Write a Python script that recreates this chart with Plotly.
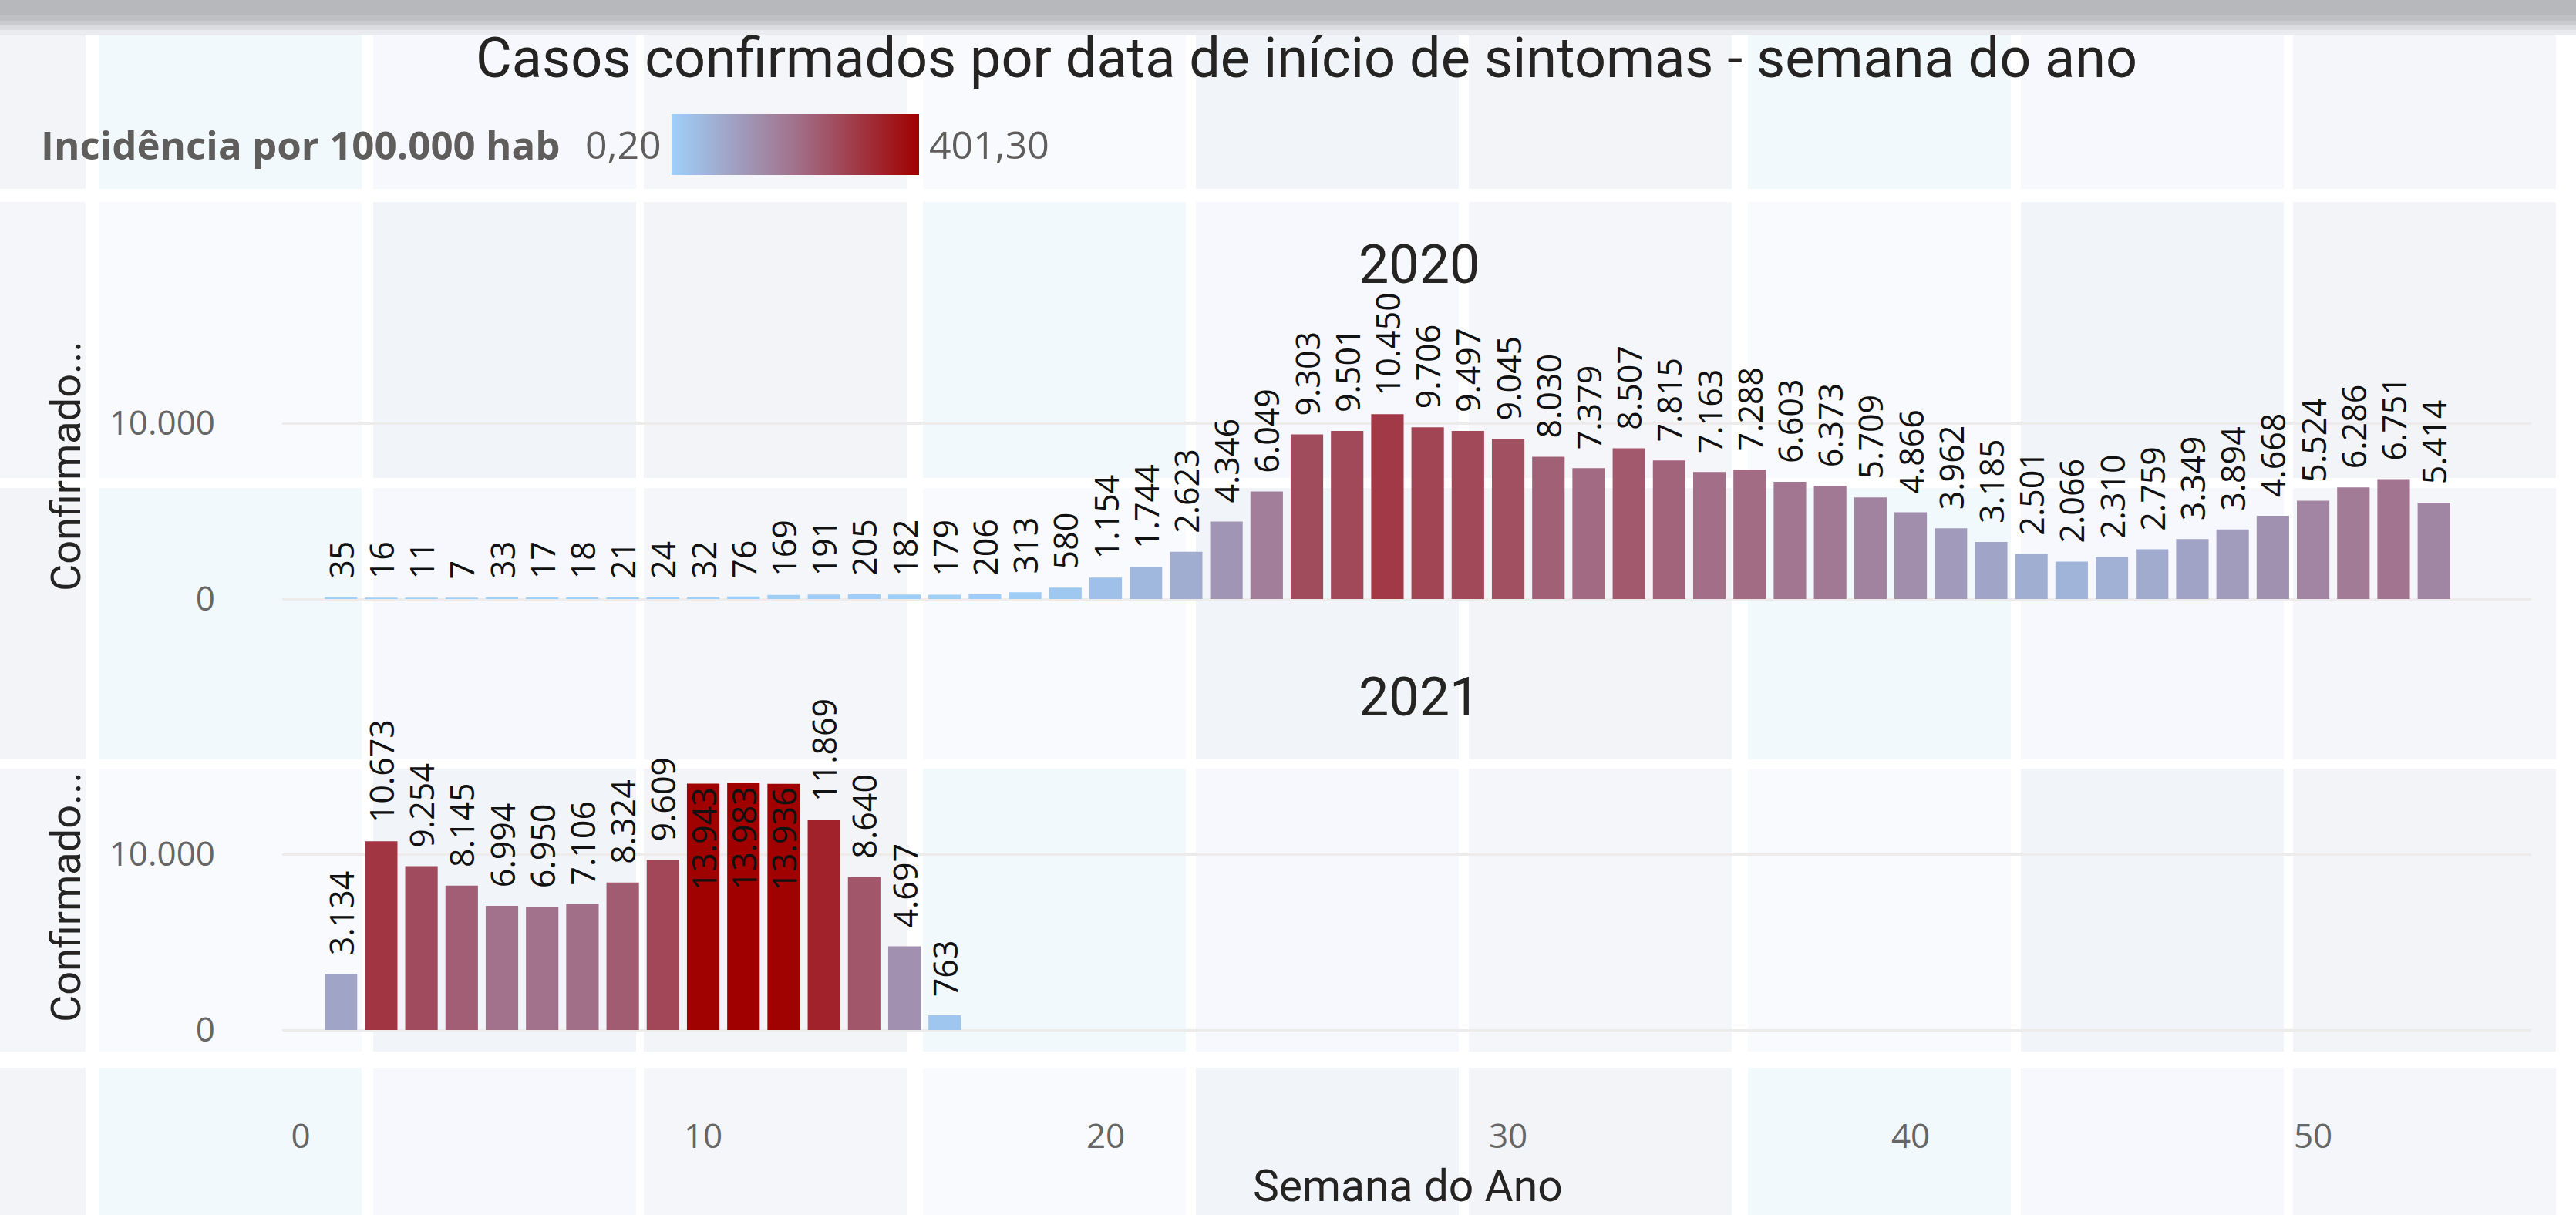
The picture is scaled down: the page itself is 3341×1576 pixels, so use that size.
import plotly.graph_objects as go

# ---------------- data ----------------
weeks_2020 = list(range(1, 54))
cases_2020 = [35, 16, 11, 7, 33, 17, 18, 21, 24, 32, 76, 169, 191, 205, 182, 179, 206,
              313, 580, 1154, 1744, 2623, 4346, 6049, 9303, 9501, 10450, 9706, 9497,
              9045, 8030, 7379, 8507, 7815, 7163, 7288, 6603, 6373, 5709, 4866, 3962,
              3185, 2501, 2066, 2310, 2759, 3349, 3894, 4668, 5524, 6286, 6751, 5414]
weeks_2021 = list(range(1, 17))
cases_2021 = [3134, 10673, 9254, 8145, 6994, 6950, 7106, 8324, 9609, 13943, 13983,
              13936, 11869, 8640, 4697, 763]
years = ["2020", "2021"]
x_ticks = [0, 10, 20, 30, 40, 50]
y_ticks = [0, 10000]
inc_min, inc_max = 0.20, 401.30
population = 3484426  # implied by the legend maximum (401,30 per 100.000 hab)

title_text = "Casos confirmados por data de início de sintomas - semana do ano"
legend_title = "Incidência por 100.000 hab"
x_title = "Semana do Ano"
y_title = "Confirmado..."

inc_2020 = [c * 1e5 / population for c in cases_2020]
inc_2021 = [c * 1e5 / population for c in cases_2021]

# ---------------- layout geometry (pixels) ----------------
W, H = 3341, 1576
x_left_px, x_right_px = 366, 3283
x_range = [-0.46, 55.42]
px_per_unit = 0.0228
y_max = 15200
zero_px = {"2020": 777, "2021": 1336}


def ydom(z):
    return [1 - z / H, 1 - (z - y_max * px_per_unit) / H]


def px_x(p):
    return p / W


def px_y(p):
    return 1 - p / H


colorscale = [[0.0, "#9FD0FA"], [0.5, "#A2718B"], [1.0, "#A00000"]]
label_font = dict(family="Open Sans", size=43, color="#111111")
grey = "#605E5C"
dark = "#252423"
label_tpl = "\u00a0\u00a0%{y:,d}"

fig = go.Figure()

# 2020
fig.add_trace(go.Bar(
    x=weeks_2020, y=cases_2020, xaxis="x", yaxis="y",
    marker=dict(color=inc_2020, coloraxis="coloraxis",
                line=dict(width=3, color=inc_2020, coloraxis="coloraxis")),
    width=0.75,
    texttemplate=label_tpl, textposition="outside", textangle=-90,
    textfont=label_font, constraintext="none", cliponaxis=False,
    showlegend=False, hoverinfo="x+y",
))

# 2021
pos_2021 = ["inside" if v > 12500 else "outside" for v in cases_2021]
fig.add_trace(go.Bar(
    x=weeks_2021, y=cases_2021, xaxis="x2", yaxis="y2",
    marker=dict(color=inc_2021, coloraxis="coloraxis",
                line=dict(width=3, color=inc_2021, coloraxis="coloraxis")),
    width=0.75,
    texttemplate=label_tpl, textposition=pos_2021, textangle=-90,
    insidetextanchor="end",
    textfont=label_font, insidetextfont=label_font, outsidetextfont=label_font,
    constraintext="none", cliponaxis=False,
    showlegend=False, hoverinfo="x+y",
))

axis_common = dict(
    range=x_range, domain=[px_x(x_left_px), px_x(x_right_px)],
    tickvals=x_ticks, showgrid=False, zeroline=False, showline=False,
    ticks="", automargin=False,
)
yaxis_common = dict(
    range=[0, y_max], tickvals=y_ticks, tickformat=",d",
    showgrid=True, gridcolor="#EEECEA", gridwidth=3,
    zeroline=True, zerolinecolor="#EEECEA", zerolinewidth=3,
    showline=False, ticks="", ticklabelstandoff=86,
    tickfont=dict(family="Open Sans", size=44, color="#666666"),
    automargin=False, fixedrange=True,
)

# background tiles (decorative panel mosaic)
cols = [(0, 111), (128, 469), (484, 825), (835, 1176), (1197, 1538), (1551, 1892),
        (1905, 2246), (2267, 2608), (2621, 2962), (2974, 3315)]
rows = [(32, 245), (262, 620), (633, 985), (997, 1364), (1385, 1576)]
tints = ["#F3F4F8", "#F2F9FC", "#F6F8FD", "#F4F6FA", "#F8FAFD", "#F1F5F9"]
shapes = []
for ri, (y0, y1) in enumerate(rows):
    for ci, (x0, x1) in enumerate(cols):
        shapes.append(dict(type="rect", xref="paper", yref="paper", layer="below",
                           x0=px_x(x0), x1=px_x(x1), y0=px_y(y1), y1=px_y(y0),
                           fillcolor=tints[(ri * 3 + ci) % len(tints)], line=dict(width=0)))
# top grey band (shadow)
for (y0, y1, c) in [(0, 20, "#B6B8BB"), (20, 27, "#BEC0C3"), (27, 33, "#CACCCF"),
                    (33, 39, "#DADCDF"), (39, 46, "#E9EBEE")]:
    shapes.append(dict(type="rect", xref="paper", yref="paper", layer="below",
                       x0=0, x1=1, y0=px_y(y1), y1=px_y(y0),
                       fillcolor=c, line=dict(width=0)))

annotations = [
    dict(text=title_text, x=px_x(1694), y=px_y(76), xref="paper", yref="paper",
         showarrow=False, xanchor="center", yanchor="middle",
         font=dict(family="Roboto", size=72, color=dark)),
    dict(text=legend_title, x=px_x(51), y=px_y(187), xref="paper", yref="paper",
         showarrow=False, xanchor="left", yanchor="middle",
         font=dict(family="Open Sans", size=51, color=grey, weight="bold")),
    dict(text=f"{inc_min:.2f}".replace(".", ","), x=px_x(860), y=px_y(187),
         xref="paper", yref="paper", showarrow=False, xanchor="right", yanchor="middle",
         font=dict(family="Open Sans", size=50, color=grey)),
    dict(text=f"{inc_max:.2f}".replace(".", ","), x=px_x(1203), y=px_y(187),
         xref="paper", yref="paper", showarrow=False, xanchor="left", yanchor="middle",
         font=dict(family="Open Sans", size=50, color=grey)),
    dict(text=x_title, x=px_x(1826), y=px_y(1538), xref="paper", yref="paper",
         showarrow=False, xanchor="center", yanchor="middle",
         font=dict(family="Roboto", size=57, color=dark)),
]
for yr, zc, tc in [(years[0], 605, 343), (years[1], 1164, 904)]:
    annotations.append(dict(text=y_title, x=px_x(85), y=px_y(zc), xref="paper", yref="paper",
                            showarrow=False, textangle=-90, xanchor="center", yanchor="middle",
                            font=dict(family="Roboto", size=54, color=dark)))
    annotations.append(dict(text=yr, x=px_x(1840), y=px_y(tc), xref="paper", yref="paper",
                            showarrow=False, xanchor="center", yanchor="middle",
                            font=dict(family="Roboto", size=70, color=dark)))

fig.update_layout(
    width=W, height=H, margin=dict(l=0, r=0, t=0, b=0, pad=0),
    paper_bgcolor="#FFFFFF", plot_bgcolor="rgba(0,0,0,0)",
    separators=",.", bargap=0.2,
    font=dict(family="Open Sans", color=grey),
    xaxis=dict(**axis_common, anchor="y", matches="x2", showticklabels=False),
    xaxis2=dict(**axis_common, anchor="y2", showticklabels=True, ticklabelstandoff=108,
                tickfont=dict(family="Open Sans", size=44, color="#666666")),
    yaxis=dict(**yaxis_common, domain=ydom(zero_px["2020"]), anchor="x"),
    yaxis2=dict(**yaxis_common, domain=ydom(zero_px["2021"]), anchor="x2"),
    coloraxis=dict(
        cmin=inc_min, cmax=inc_max, colorscale=colorscale, showscale=True,
        colorbar=dict(orientation="h", x=px_x(871), xanchor="left",
                      y=px_y(148), yanchor="top",
                      lenmode="pixels", len=321, thicknessmode="pixels", thickness=79,
                      showticklabels=False, ticks="", outlinewidth=0,
                      xpad=0, ypad=0, bgcolor="rgba(0,0,0,0)"),
    ),
    shapes=shapes, annotations=annotations,
)

fig.write_html("out.html", config={"displayModeBar": False},
               post_script="document.body.style.margin='0';document.body.style.overflow='hidden';")
